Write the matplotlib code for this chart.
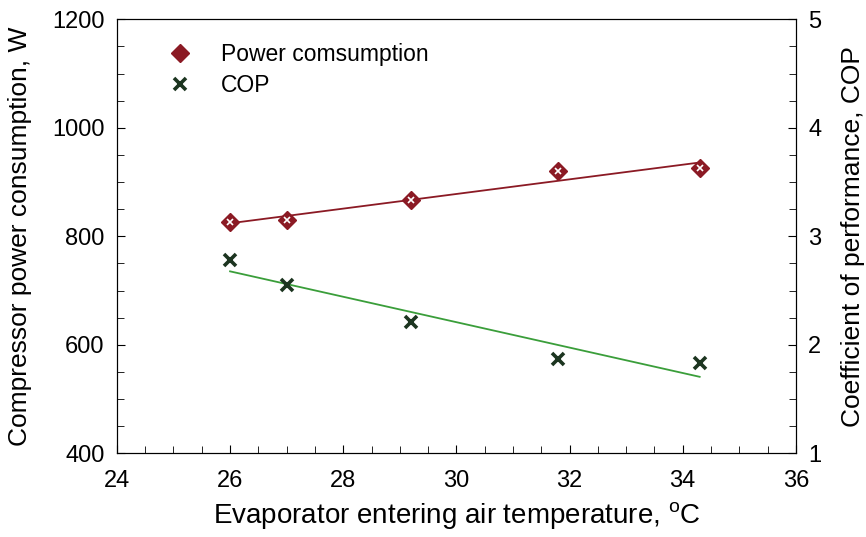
import numpy as np
import matplotlib.pyplot as plt
from matplotlib.ticker import MultipleLocator

plt.rcParams['font.family'] = ['Liberation Sans', 'DejaVu Sans']

# Measured data
temperature = [26.0, 27.0, 29.2, 31.8, 34.3]
power = [826, 830, 866, 920, 925]
cop = [2.78, 2.55, 2.21, 1.87, 1.83]

power_color = '#8b1a24'
cop_marker_color = '#1c3520'
cop_line_color = '#3a9e3a'

fig = plt.figure(figsize=(8.66, 5.37), dpi=100)
ax = fig.add_axes([0.135, 0.156, 0.784, 0.808])
ax2 = ax.twinx()

# Linear fits
x_fit = np.array([min(temperature), max(temperature)])
p_coef = np.polyfit(temperature, power, 1)
c_coef = np.polyfit(temperature, cop, 1)

ax.plot(x_fit, np.polyval(p_coef, x_fit), color=power_color, linewidth=1.3)
ax.plot(temperature, power, linestyle='none', marker='D', markersize=9,
        markerfacecolor=power_color, markeredgecolor=power_color)
ax.plot(temperature, power, linestyle='none', marker='x', markersize=4,
        markeredgewidth=1.2, color='white')

ax2.plot(x_fit, np.polyval(c_coef, x_fit), color=cop_line_color, linewidth=1.3)
ax2.plot(temperature, cop, linestyle='none', marker='x', markersize=8,
         markeredgewidth=2.6, color=cop_marker_color)

# Axes
ax.set_xlim(24, 36)
ax.set_ylim(400, 1200)
ax2.set_ylim(1, 5)
ax.xaxis.set_major_locator(MultipleLocator(2))
ax.xaxis.set_minor_locator(MultipleLocator(0.5))
ax.yaxis.set_major_locator(MultipleLocator(200))
ax.yaxis.set_minor_locator(MultipleLocator(50))
ax2.yaxis.set_major_locator(MultipleLocator(1))
ax2.yaxis.set_minor_locator(MultipleLocator(0.25))

ax.tick_params(axis='both', which='both', direction='in', labelsize=17)
ax.tick_params(axis='x', which='both', pad=12)
ax.tick_params(axis='y', which='both', pad=9)
ax.tick_params(which='major', length=6)
ax.tick_params(which='minor', length=5)
ax2.tick_params(axis='y', which='both', direction='in', labelsize=17, pad=9)
ax2.tick_params(which='major', length=6)
ax2.tick_params(which='minor', length=5)

ax.set_xlabel('Evaporator entering air temperature, $\\mathregular{^{o}}$C', fontsize=20, labelpad=6)
ax.set_ylabel('Compressor power consumption, W', fontsize=19, labelpad=14)
ax2.set_ylabel('Coefficient of performance, COP', fontsize=19, labelpad=14)

# Legend
ax.plot([], [], linestyle='none', marker='D', markersize=9, color=power_color, label='Power comsumption')
ax.plot([], [], linestyle='none', marker='x', markersize=8, markeredgewidth=2.6,
        color=cop_marker_color, label='COP')
handles, labels = ax.get_legend_handles_labels()
ax.legend(handles, labels, loc='upper left', bbox_to_anchor=(0.076, 0.945), frameon=False,
          fontsize=16.5, handlelength=1.0, handletextpad=1.3, labelspacing=0.35,
          borderpad=0, borderaxespad=0)

plt.savefig('out.png', dpi=100)
